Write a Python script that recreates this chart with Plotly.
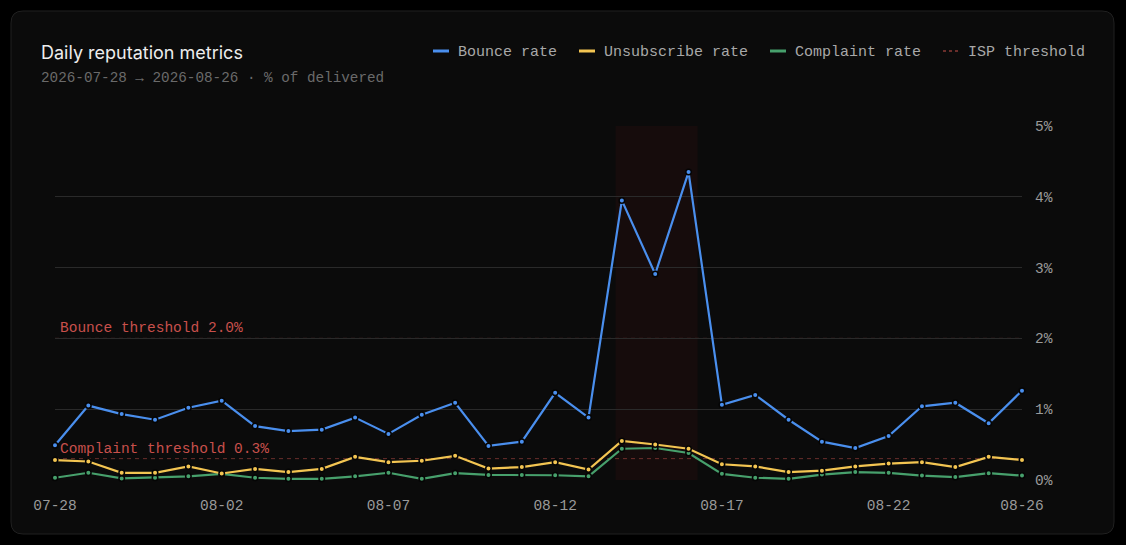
import plotly.graph_objects as go
import pandas as pd

# daily values, % of delivered
dates = pd.date_range("2026-07-28", "2026-08-26", freq="D").strftime("%Y-%m-%d").tolist()
bounce = [0.49, 1.05, 0.93, 0.85, 1.02, 1.12, 0.76, 0.69, 0.71, 0.88,
          0.65, 0.92, 1.09, 0.48, 0.54, 1.23, 0.88, 3.95, 2.91, 4.35,
          1.06, 1.20, 0.85, 0.54, 0.45, 0.62, 1.04, 1.09, 0.80, 1.26]
unsubscribe = [0.28, 0.26, 0.10, 0.10, 0.19, 0.09, 0.155, 0.11, 0.155, 0.325,
               0.25, 0.27, 0.34, 0.16, 0.18, 0.25, 0.145, 0.55, 0.50, 0.44,
               0.22, 0.19, 0.11, 0.13, 0.19, 0.23, 0.25, 0.18, 0.325, 0.28]
complaint = [0.03, 0.10, 0.02, 0.03, 0.05, 0.085, 0.03, 0.015, 0.015, 0.05,
             0.10, 0.015, 0.095, 0.07, 0.07, 0.065, 0.05, 0.44, 0.45, 0.38,
             0.085, 0.03, 0.015, 0.075, 0.11, 0.10, 0.06, 0.04, 0.095, 0.06]

bounce_threshold = 2.0
complaint_threshold = 0.3
incident_start = "2026-08-13 19:30"
incident_end = "2026-08-16 06:30"

x_tickvals = ["2026-07-28", "2026-08-02", "2026-08-07", "2026-08-12", "2026-08-17", "2026-08-22", "2026-08-26"]
x_ticktext = ["07-28", "08-02", "08-07", "08-12", "08-17", "08-22", "08-26"]
y_tickvals = [0, 1, 2, 3, 4, 5]
y_ticktext = ["0%", "1%", "2%", "3%", "4%", "5%"]

BLUE = "#4a8fee"
YELLOW = "#f3c552"
GREEN = "#47a06c"
RED = "#c8504b"
MONO = "Liberation Mono, DejaVu Sans Mono, monospace"

W, H = 1126, 545
ML, MR, MT, MB = 55, 104, 126, 65
PW, PH = W - ML - MR, H - MT - MB


def xp(px):
    return (px - ML) / PW


def yp(py):
    return (H - MB - py) / PH


def card_path(x0, y0, x1, y1, r):
    # rounded rect in paper coords, corners via quadratic curves
    pts = [
        f"M{xp(x0 + r)},{yp(y0)}",
        f"L{xp(x1 - r)},{yp(y0)}",
        f"Q{xp(x1)},{yp(y0)} {xp(x1)},{yp(y0 + r)}",
        f"L{xp(x1)},{yp(y1 - r)}",
        f"Q{xp(x1)},{yp(y1)} {xp(x1 - r)},{yp(y1)}",
        f"L{xp(x0 + r)},{yp(y1)}",
        f"Q{xp(x0)},{yp(y1)} {xp(x0)},{yp(y1 - r)}",
        f"L{xp(x0)},{yp(y0 + r)}",
        f"Q{xp(x0)},{yp(y0)} {xp(x0 + r)},{yp(y0)}",
        "Z",
    ]
    return " ".join(pts)


def series(y, name, color):
    return go.Scatter(
        x=dates, y=y, name=name, mode="lines+markers",
        line=dict(color=color, width=2.2),
        marker=dict(size=5.5, color=color, line=dict(color="#050505", width=1.5)),
        cliponaxis=False, showlegend=False,
    )


fig = go.Figure()
fig.add_trace(series(complaint, "Complaint rate", GREEN))
fig.add_trace(series(unsubscribe, "Unsubscribe rate", YELLOW))
fig.add_trace(series(bounce, "Bounce rate", BLUE))

shapes = [
    dict(type="path", xref="paper", yref="paper", path=card_path(11, 11, 1114, 534, 12),
         fillcolor="#0b0b0b", line=dict(color="#202020", width=1), layer="below"),
    dict(type="rect", xref="x", yref="paper", x0=incident_start, x1=incident_end, y0=0, y1=1,
         fillcolor="rgba(110,25,25,0.12)", line=dict(width=0), layer="below"),
    dict(type="line", xref="paper", yref="y", x0=0, x1=1, y0=bounce_threshold, y1=bounce_threshold,
         line=dict(color="rgba(200,80,75,0.5)", width=1, dash="4px,4px"), layer="below"),
    dict(type="line", xref="paper", yref="y", x0=0, x1=1, y0=complaint_threshold, y1=complaint_threshold,
         line=dict(color="rgba(200,80,75,0.5)", width=1, dash="4px,4px"), layer="below"),
]

annotations = [
    dict(text="Daily reputation metrics", xref="paper", yref="paper", x=xp(39), y=yp(52),
         xanchor="left", yanchor="middle", showarrow=False,
         font=dict(family="Inter, Noto Sans, sans-serif", size=18, color="#ededed")),
    dict(text="2026-07-28 → 2026-08-26 · % of delivered", xref="paper", yref="paper",
         x=xp(39), y=yp(77.5), xanchor="left", yanchor="middle", showarrow=False,
         font=dict(family=MONO, size=14.3, color="#6a6a6a")),
    dict(text=f"Bounce threshold {bounce_threshold:.1f}%", xref="paper", yref="y",
         x=0, y=bounce_threshold, xanchor="left", yanchor="bottom", xshift=3, yshift=0,
         showarrow=False, font=dict(family=MONO, size=14.5, color=RED)),
    dict(text=f"Complaint threshold {complaint_threshold:.1f}%", xref="paper", yref="y",
         x=0, y=complaint_threshold, xanchor="left", yanchor="bottom", xshift=3, yshift=0,
         showarrow=False, font=dict(family=MONO, size=14.5, color=RED)),
]

# legend drawn by hand: short swatches like the original
legend_items = [
    ("Bounce rate", BLUE, "solid", 433, 458),
    ("Unsubscribe rate", YELLOW, "solid", 579, 604),
    ("Complaint rate", GREEN, "solid", 770, 795),
    ("ISP threshold", RED, "dot", 943, 968),
]
for label, color, dash, sx, tx in legend_items:
    shapes.append(dict(type="line", xref="paper", yref="paper", x0=xp(sx), x1=xp(sx + 16),
                       y0=yp(51), y1=yp(51),
                       line=dict(color=color, width=3 if dash == "solid" else 1, dash=dash)))
    annotations.append(dict(text=label, xref="paper", yref="paper", x=xp(tx - 2), y=yp(52.5),
                            xanchor="left", yanchor="middle", showarrow=False,
                            font=dict(family=MONO, size=15, color="#a8a8a8")))

fig.update_layout(
    width=W, height=H,
    margin=dict(l=ML, r=MR, t=MT, b=MB),
    paper_bgcolor="#000000",
    plot_bgcolor="rgba(0,0,0,0)",
    shapes=shapes,
    annotations=annotations,
    showlegend=False,
    xaxis=dict(type="date", range=[dates[0], dates[-1]], tickvals=x_tickvals, ticktext=x_ticktext,
               showgrid=False, zeroline=False, showline=False, ticks="",
               ticklabelstandoff=14,
               tickfont=dict(family=MONO, size=14.5, color="#9a9a9a")),
    yaxis=dict(range=[-0.002, 5.002], side="right", tickvals=y_tickvals, ticktext=y_ticktext,
               showgrid=True, gridcolor="#2a2a2a", gridwidth=1, zeroline=False, showline=False,
               ticks="", ticklabelstandoff=12,
               tickfont=dict(family=MONO, size=14.5, color="#9a9a9a")),
)

fig.write_html("out.html", config={"displayModeBar": False},
               post_script="document.body.style.margin='0';")
